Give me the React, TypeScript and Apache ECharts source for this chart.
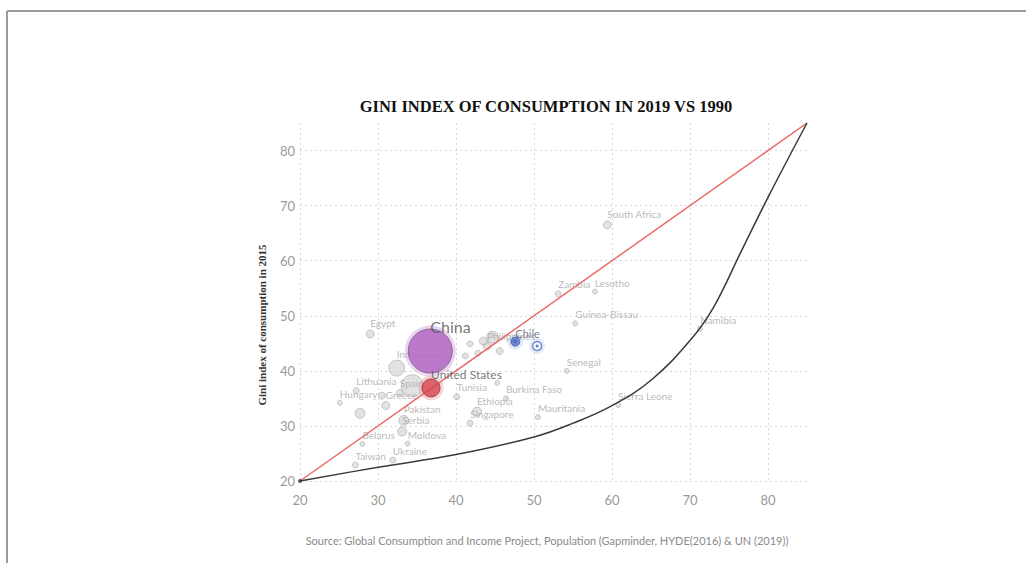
import React, { useEffect, useRef } from "react";
import * as echarts from "echarts";

const countries = [
  "Egypt", "Indonesia", "Lithuania", "Spain", "Hungary", "Greece", "Pakistan", "Serbia",
  "Belarus", "Moldova", "Ukraine", "Taiwan", "Tunisia", "Ethiopia", "Singapore", "Burkina Faso",
  "Mauritania", "Senegal", "Guinea-Bissau", "Zambia", "Lesotho", "South Africa", "Namibia",
  "Sierra Leone", "Philippines", "India", "", "", "", "", "", "", "", "", ""
];
const gini1990 = [
  29.0, 32.4, 27.2, 32.8, 25.1, 31.0, 33.3, 33.1,
  28.0, 33.8, 31.9, 27.1, 40.1, 42.7, 41.8, 46.4,
  50.5, 54.2, 55.3, 53.1, 57.8, 59.4, 71.3,
  60.8, 44.0, 34.4, 27.7, 41.8, 42.8, 43.5, 44.7, 45.6, 41.2, 45.3, 30.5
];
const gini2015 = [
  46.7, 40.5, 36.4, 36.0, 34.2, 33.7, 31.0, 29.0,
  26.7, 26.8, 23.8, 22.9, 35.3, 32.6, 30.5, 35.0,
  31.6, 40.0, 48.6, 54.0, 54.4, 66.5, 47.6,
  33.8, 44.5, 37.3, 32.3, 44.9, 43.2, 45.4, 46.1, 43.6, 42.7, 37.8, 35.5
];
const bubbleSizes = [
  8, 16, 6, 7, 5, 8, 10, 9,
  5, 5, 6, 6, 6, 9, 6, 5,
  5, 5, 5, 6, 5, 8, 5,
  5, 8, 22, 10, 6, 6, 8, 12, 7, 6, 5, 7
];

const focusNames = ["China", "United States", "Chile", ""];
const focus1990 = [36.7, 36.8, 47.6, 50.4];
const focus2015 = [43.6, 36.9, 45.3, 44.5];
const focusSizes = [44, 18, 9, 9];
const focusColors = ["#b062c2", "#d8434e", "#4f6fc4", "#ffffff"];
const focusBorders = ["#7a5a86", "#8a3a40", "#3f5fb4", "#4f6fc4"];
const haloColors = ["rgba(205,160,220,0.55)", "rgba(235,150,155,0.5)", "rgba(120,150,220,0.25)", "rgba(120,150,220,0.25)"];

const equalityX = [20, 85];
const equalityY = [20, 85];

const curveX = [20, 30, 40, 50, 55, 60, 65, 70, 73, 76.5, 80, 85];
const curveY = [20, 22.5, 24.8, 28, 30.5, 33.7, 38.3, 45.5, 51.5, 61.5, 71.5, 85];

const titleText = "GINI INDEX OF CONSUMPTION IN 2019 VS 1990";
const yAxisName = "Gini index of consumption in 2015";
const sourceText = "Source: Global Consumption and Income Project, Population (Gapminder, HYDE(2016) & UN (2019))";

export default function App() {
  const ref = useRef<HTMLDivElement>(null);
  useEffect(() => {
    if (!ref.current) return;
    const chart = echarts.init(ref.current, null, { renderer: "svg" });

    const grayData = countries.map((n, i) => ({
      name: n,
      value: [gini1990[i], gini2015[i]],
      symbolSize: bubbleSizes[i],
      label: { show: n !== "" && n !== "India" },
    }));

    const focusData = focusNames.map((n, i) => ({
      name: n,
      value: [focus1990[i], focus2015[i]],
      symbolSize: focusSizes[i],
      itemStyle: { color: focusColors[i], borderColor: focusBorders[i], borderWidth: i === 3 ? 1.5 : 1 },
      label: {
        show: n !== "",
        fontSize: i === 0 ? 16 : i === 1 ? 12 : 11,
        color: i === 2 ? "#555a70" : "#555",
        distance: i === 0 ? -6 : -2,
      },
    }));

    const haloData = focusNames.map((n, i) => ({
      value: [focus1990[i], focus2015[i]],
      symbolSize: focusSizes[i] + 7,
      itemStyle: { color: haloColors[i] },
    }));

    const axisLabelStyle = { color: "#9a9a9a", fontSize: 13, fontFamily: "Lato" };
    const splitStyle = { show: true, showMaxLine: false, lineStyle: { color: "#d8d8d8", type: [2, 3] as any, width: 1 } };

    chart.setOption({
      animation: false,
      grid: { left: 300, top: 123, width: 507, height: 358, containLabel: false },
      xAxis: {
        type: "value", min: 20, max: 85, interval: 10,
        axisLine: { show: false }, axisTick: { show: false },
        axisLabel: { ...axisLabelStyle, margin: 12, showMaxLabel: false, formatter: (v: number) => (v === 85 ? "" : String(v)) },
        splitLine: splitStyle,
      },
      yAxis: {
        type: "value", min: 20, max: 85, interval: 10,
        axisLine: { show: false }, axisTick: { show: false },
        axisLabel: { ...axisLabelStyle, margin: 5, showMaxLabel: false, formatter: (v: number) => (v === 85 ? "" : String(v)) },
        splitLine: splitStyle,
      },
      series: [
        {
          type: "scatter", z: 2, silent: true,
          data: grayData,
          itemStyle: { color: "rgba(200,200,200,0.65)", borderColor: "rgba(150,150,150,0.6)", borderWidth: 1 },
          label: {
            position: "top", align: "left", distance: 1,
            formatter: "{b}", color: "#a8a8a8", fontSize: 10, fontFamily: "Lato",
          },
        },
        {
          type: "scatter", z: 3, silent: true,
          data: haloData,
          itemStyle: { borderWidth: 0 },
        },
        {
          type: "line", z: 4, silent: true,
          data: equalityX.map((x, i) => [x, equalityY[i]]),
          showSymbol: false,
          lineStyle: { color: "#ea6a6a", width: 1.5 },
        },
        {
          type: "scatter", z: 5, silent: true,
          data: focusData,
          label: { position: "top", align: "left", formatter: "{b}", fontFamily: "Lato" },
        },
        {
          type: "scatter", z: 6, silent: true,
          data: [[focus1990[2], focus2015[2]], [focus1990[3], focus2015[3]]],
          symbolSize: 3,
          itemStyle: { color: "#3f5fb4" },
        },
        {
          type: "line", z: 4, silent: true,
          data: curveX.map((x, i) => [x, curveY[i]]),
          smooth: 0.4,
          showSymbol: false,
          lineStyle: { color: "#3a3a3a", width: 1.5 },
        },
        {
          type: "scatter", z: 6, silent: true,
          data: [[curveX[0], curveY[0]]],
          symbolSize: 4,
          itemStyle: { color: "#333" },
        },
      ],
      graphic: [
        { type: "line", shape: { x1: 7, y1: 11, x2: 1026, y2: 11 }, style: { stroke: "#9a9a9a", lineWidth: 2 } },
        { type: "line", shape: { x1: 7, y1: 11, x2: 7, y2: 563 }, style: { stroke: "#9a9a9a", lineWidth: 2 } },
        {
          type: "text", x: 546, y: 106,
          style: {
            text: titleText, textAlign: "center", textVerticalAlign: "middle",
            font: "bold 16.5px 'Liberation Serif'", fill: "#111",
          },
        },
        {
          type: "text", x: 262, y: 325, rotation: Math.PI / 2,
          style: {
            text: yAxisName, textAlign: "center", textVerticalAlign: "middle",
            font: "bold 11px 'Liberation Serif'", fill: "#333",
          },
        },
        {
          type: "text", x: 547, y: 540,
          style: {
            text: sourceText, textAlign: "center", textVerticalAlign: "middle",
            font: "11px Lato", fill: "#8a8a8a",
          },
        },
      ],
    });
    return () => chart.dispose();
  }, []);
  return (
    <div
      ref={ref}
      style={{ position: "fixed", left: 0, top: 0, width: 1026, height: 563, background: "#fff" }}
    />
  );
}
